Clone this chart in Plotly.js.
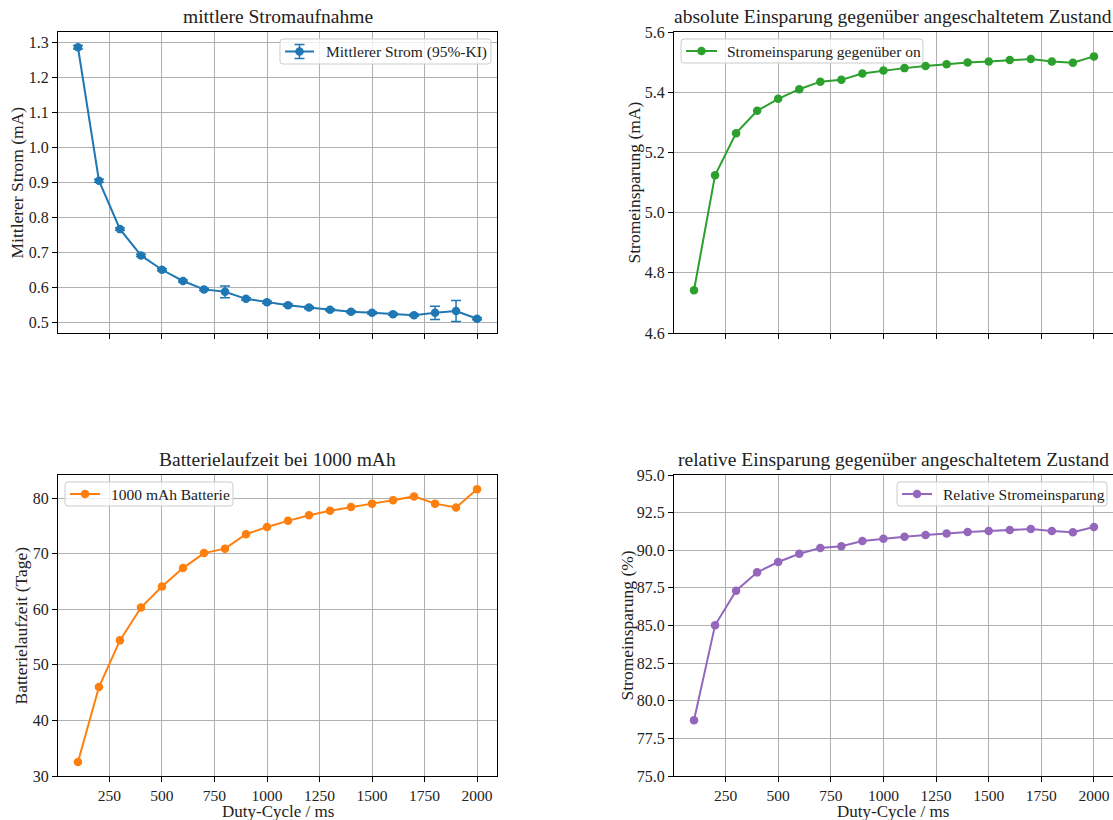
<!DOCTYPE html>
<html>
<head>
<meta charset="utf-8">
<script src="https://cdn.plot.ly/plotly-3.0.1.min.js"></script>
<style>html,body{margin:0;padding:0;background:#fff;}#chart{width:1113px;height:820px;}</style>
</head>
<body>
<div id="chart"></div>
<script>
// ---- data ----
const dutyCycle = [100,200,300,400,500,600,700,800,900,1000,1100,1200,1300,1400,1500,1600,1700,1800,1900,2000];
const meanCurrent = [1.285,0.904,0.766,0.691,0.650,0.618,0.594,0.587,0.567,0.557,0.549,0.542,0.536,0.530,0.527,0.523,0.520,0.527,0.532,0.510];
const meanCurrentCI = [0.005,0.004,0.003,0.003,0.003,0.003,0.003,0.017,0.003,0.003,0.003,0.003,0.003,0.003,0.003,0.003,0.003,0.019,0.030,0.003];
const absSaving = [4.742,5.124,5.264,5.338,5.378,5.410,5.435,5.441,5.462,5.472,5.480,5.487,5.493,5.499,5.502,5.507,5.510,5.502,5.498,5.519];
const batteryDays = [32.5,46.0,54.4,60.3,64.1,67.4,70.1,70.9,73.5,74.8,75.9,76.9,77.7,78.4,79.0,79.6,80.3,79.0,78.3,81.6];
const relSaving = [78.70,85.01,87.31,88.53,89.22,89.77,90.15,90.26,90.61,90.77,90.90,91.01,91.12,91.21,91.28,91.35,91.41,91.28,91.19,91.54];
const xTicks = [250,500,750,1000,1250,1500,1750,2000];

const titles = ['mittlere Stromaufnahme','absolute Einsparung gegenüber angeschaltetem Zustand','Batterielaufzeit bei 1000 mAh','relative Einsparung gegenüber angeschaltetem Zustand'];
const yTitles = ['Mittlerer Strom (mA)','Stromeinsparung (mA)','Batterielaufzeit (Tage)','Stromeinsparung (%)'];
const names = ['Mittlerer Strom (95%-KI)','Stromeinsparung gegenüber on','1000 mAh Batterie','Relative Stromeinsparung'];
const colors = ['#1f77b4','#2ca02c','#ff7f0e','#9467bd'];

// ---- layout ----
const W = 1113, H = 820;
const FONT = '"Liberation Serif", "Times New Roman", serif';
const px = v => v / W;
const py = v => 1 - v / H;
const colX = [[58,497],[674,1113]];
const rowY = [[32,333],[475,776]];

function mk(i, y, extra) {
  return Object.assign({
    x: dutyCycle, y: y, type: 'scatter', mode: 'lines+markers', name: names[i],
    line: {color: colors[i], width: 2}, marker: {color: colors[i], size: 8.5},
    xaxis: 'x' + (i === 0 ? '' : i + 1), yaxis: 'y' + (i === 0 ? '' : i + 1),
    showlegend: false
  }, extra || {});
}

const traces = [
  mk(0, meanCurrent, {error_y: {type: 'data', array: meanCurrentCI, visible: true, color: colors[0], thickness: 1.5, width: 5}}),
  mk(1, absSaving),
  mk(2, batteryDays),
  mk(3, relSaving)
];

const yRanges = [[0.4695,1.3286],[4.6,5.6],[30,84.15],[75,95]];
const yDtick = [0.1,0.2,10,2.5];
const yFmt = ['.1f','.1f','d','.1f'];

const layout = {
  width: W, height: H, margin: {l:0, r:0, t:0, b:0},
  paper_bgcolor: '#fff', plot_bgcolor: '#fff',
  font: {family: FONT, size: 15, color: '#222'},
  annotations: [], shapes: [], showlegend: false
};

for (let i = 0; i < 4; i++) {
  const c = i % 2, r = Math.floor(i / 2);
  const [x0, x1] = colX[c], [y0, y1] = rowY[r];
  const sfx = i === 0 ? '' : String(i + 1);
  layout['xaxis' + sfx] = {
    domain: [px(x0), px(x1)], anchor: 'y' + sfx,
    range: c === 0 ? [5, 2095] : [5, 2090.5],
    tickvals: xTicks, ticktext: xTicks.map(String),
    showticklabels: r === 1,
    ticks: 'outside', ticklen: 5, tickwidth: 1, tickcolor: '#000',
    showgrid: true, gridcolor: '#b0b0b0', gridwidth: 1,
    showline: true, linecolor: '#000', linewidth: 1, mirror: true,
    zeroline: false, tickfont: {family: FONT, size: 15.5, color: '#222'}
  };
  layout['yaxis' + sfx] = {
    domain: [py(y1), py(y0)], anchor: 'x' + sfx,
    range: yRanges[i], dtick: yDtick[i], tick0: 0, tickformat: yFmt[i],
    ticks: 'outside', ticklen: 5, tickwidth: 1, tickcolor: '#000',
    showgrid: true, gridcolor: '#b0b0b0', gridwidth: 1,
    showline: true, linecolor: '#000', linewidth: 1, mirror: c === 0,
    zeroline: false, tickfont: {family: FONT, size: 16, color: '#222'}
  };
  // subplot title
  layout.annotations.push({
    text: titles[i], xref: 'paper', yref: 'paper', x: px((x0 + x1) / 2), y: py(y0 - 3),
    xanchor: 'center', yanchor: 'bottom', showarrow: false,
    font: {family: FONT, size: 19.5, color: '#222'}
  });
  // y axis title
  const yxt = [17, 634, 20, 626][i];
  layout.annotations.push({
    text: yTitles[i], xref: 'paper', yref: 'paper', x: px(yxt), y: py((y0 + y1) / 2),
    xanchor: 'center', yanchor: 'middle', textangle: -90, showarrow: false,
    font: {family: FONT, size: 17.5, color: '#222'}
  });
  if (r === 1) {
    layout.annotations.push({
      text: 'Duty-Cycle / ms', xref: 'paper', yref: 'paper', x: px((x0 + x1) / 2), y: py(811),
      xanchor: 'center', yanchor: 'middle', showarrow: false,
      font: {family: FONT, size: 17, color: '#222'}
    });
  }
}

// ---- legends (boxes in pixel geometry converted to paper coords) ----
const legends = [
  {bx0: 280, bx1: 491, by0: 39, by1: 64, lx0: 285, lx1: 314, tx: 324, err: true},
  {bx0: 681, bx1: 923, by0: 39, by1: 63, lx0: 686, lx1: 717, tx: 725, err: false},
  {bx0: 65,  bx1: 233, by0: 482, by1: 506, lx0: 70, lx1: 100, tx: 109, err: false},
  {bx0: 897, bx1: 1107, by0: 482, by1: 506, lx0: 902, lx1: 932, tx: 941, err: false}
];
function roundRect(x0, y0, x1, y1, rr) {
  const X = v => px(v).toFixed(5), Y = v => py(v).toFixed(5);
  return `M ${X(x0+rr)} ${Y(y0)} L ${X(x1-rr)} ${Y(y0)} Q ${X(x1)} ${Y(y0)} ${X(x1)} ${Y(y0+rr)} ` +
         `L ${X(x1)} ${Y(y1-rr)} Q ${X(x1)} ${Y(y1)} ${X(x1-rr)} ${Y(y1)} L ${X(x0+rr)} ${Y(y1)} ` +
         `Q ${X(x0)} ${Y(y1)} ${X(x0)} ${Y(y1-rr)} L ${X(x0)} ${Y(y0+rr)} Q ${X(x0)} ${Y(y0)} ${X(x0+rr)} ${Y(y0)} Z`;
}
legends.forEach((L, i) => {
  const cy = (L.by0 + L.by1) / 2;
  const cx = (L.lx0 + L.lx1) / 2;
  layout.shapes.push({type: 'path', xref: 'paper', yref: 'paper', layer: 'above',
    path: roundRect(L.bx0, L.by0, L.bx1, L.by1, 3),
    fillcolor: 'rgba(255,255,255,0.8)', line: {color: '#cccccc', width: 1}});
  layout.shapes.push({type: 'line', xref: 'paper', yref: 'paper', layer: 'above',
    x0: px(L.lx0), x1: px(L.lx1), y0: py(cy), y1: py(cy), line: {color: colors[i], width: 2}});
  if (L.err) {
    layout.shapes.push({type: 'line', xref: 'paper', yref: 'paper', layer: 'above',
      x0: px(cx), x1: px(cx), y0: py(cy - 7), y1: py(cy + 7), line: {color: colors[i], width: 1.5}});
    [cy - 7, cy + 7].forEach(yy => layout.shapes.push({type: 'line', xref: 'paper', yref: 'paper', layer: 'above',
      x0: px(cx - 5), x1: px(cx + 5), y0: py(yy), y1: py(yy), line: {color: colors[i], width: 1.5}}));
  }
  layout.shapes.push({type: 'circle', xref: 'paper', yref: 'paper', layer: 'above',
    x0: px(cx - 4.3), x1: px(cx + 4.3), y0: py(cy - 4.3), y1: py(cy + 4.3),
    fillcolor: colors[i], line: {color: colors[i], width: 0}});
  layout.annotations.push({
    text: names[i], xref: 'paper', yref: 'paper', x: px(L.tx), y: py(cy + 0.5),
    xanchor: 'left', yanchor: 'middle', showarrow: false,
    font: {family: FONT, size: 15.5, color: '#222'}
  });
});

Plotly.newPlot('chart', traces, layout, {displayModeBar: false, staticPlot: true});
</script>
</body>
</html>
